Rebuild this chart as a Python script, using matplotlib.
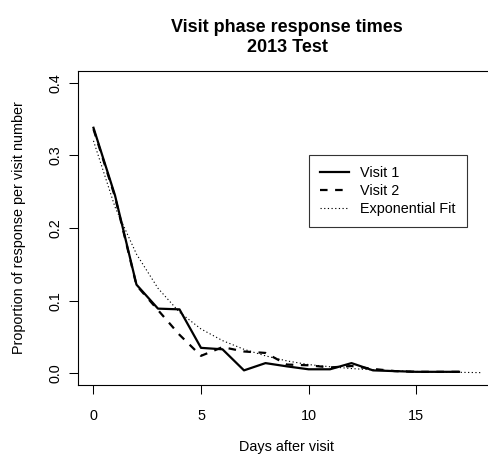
import matplotlib
matplotlib.use("Agg")
import matplotlib.pyplot as plt

# ---- data ----
days = list(range(18))  # 0 .. 17
visit1 = [0.338, 0.245, 0.122, 0.089, 0.088, 0.035, 0.033, 0.004, 0.014,
          0.0095, 0.0055, 0.0055, 0.014, 0.004, 0.003, 0.002, 0.002, 0.002]
visit2 = [0.336, 0.243, 0.121, 0.087, 0.053, 0.024, 0.036, 0.030, 0.028,
          0.012, 0.011, 0.008, 0.010, 0.006, 0.003, 0.002, 0.002, 0.002]
fit_days = list(range(19))  # 0 .. 18
fit_vals = [0.320, 0.229, 0.164, 0.117, 0.084, 0.061, 0.045, 0.033, 0.024,
            0.017, 0.012, 0.009, 0.0065, 0.0047, 0.0034, 0.0025, 0.0018,
            0.0013, 0.0009]
xticks = [0, 5, 10, 15]
yticks = [0.0, 0.1, 0.2, 0.3, 0.4]
ytick_labels = ["0.0", "0.1", "0.2", "0.3", "0.4"]
title_lines = ["Visit phase response times", "2013 Test"]
xlabel = "Days after visit"
ylabel = "Proportion of response per visit number"
legend_labels = ["Visit 1", "Visit 2", "Exponential Fit"]

plt.rcParams['font.family'] = ['Liberation Sans', 'DejaVu Sans']

W, H = 489, 455
fig = plt.figure(figsize=(W / 100, H / 100), dpi=100)

left, right, top, bottom = 78.0, 496.0, 71.1, 384.9
ax = fig.add_axes([left / W, 1 - bottom / H, (right - left) / W, (bottom - top) / H])

ax.plot(days, visit1, color='black', lw=1.6, solid_joinstyle='round',
        label=legend_labels[0])
ax.plot(days, visit2, color='black', lw=1.6, dashes=(3.4, 3.4),
        label=legend_labels[1])
ax.plot(fit_days, fit_vals, color='black', lw=0.8, dashes=(1.1, 2.2),
        label=legend_labels[2])

ax.set_xlim(-0.72, 18.72)
ax.set_ylim(-0.016, 0.416)
ax.set_xticks(xticks)
ax.set_yticks(yticks)
ax.set_yticklabels(ytick_labels)

for s in ax.spines.values():
    s.set_linewidth(0.8)
    s.set_color('black')

ax.tick_params(axis='both', direction='out', length=6.5, width=0.75,
               labelsize=10.4, colors='black')
ax.tick_params(axis='x', pad=11)
ax.tick_params(axis='y', pad=4.5)
for lab in ax.get_yticklabels():
    lab.set_rotation(90)
    lab.set_va('center')
    lab.set_ha('right')

cx = ((left + right) / 2) / W
fig.text(cx, 1 - 31.7 / H, title_lines[0], ha='center', va='baseline',
         fontsize=13, fontweight='bold')
fig.text(cx, 1 - 52.3 / H, title_lines[1], ha='center', va='baseline',
         fontsize=13, fontweight='bold')
fig.text(cx, 1 - 451.0 / H, xlabel, ha='center', va='baseline', fontsize=10.4)
fig.text(19.4 / W, 1 - ((top + bottom) / 2) / H, ylabel, ha='center',
         va='center', rotation=90, fontsize=10.4)

leg = ax.legend(loc='upper left', bbox_to_anchor=(309 / W, 1 - 155 / H),
                bbox_transform=fig.transFigure, borderaxespad=0,
                fontsize=10.4, handlelength=2.0, handletextpad=0.78,
                labelspacing=0.28, borderpad=0.76, fancybox=False,
                framealpha=1, edgecolor='#333333')
leg.get_frame().set_linewidth(0.8)

fig.savefig("out.png", dpi=100)
